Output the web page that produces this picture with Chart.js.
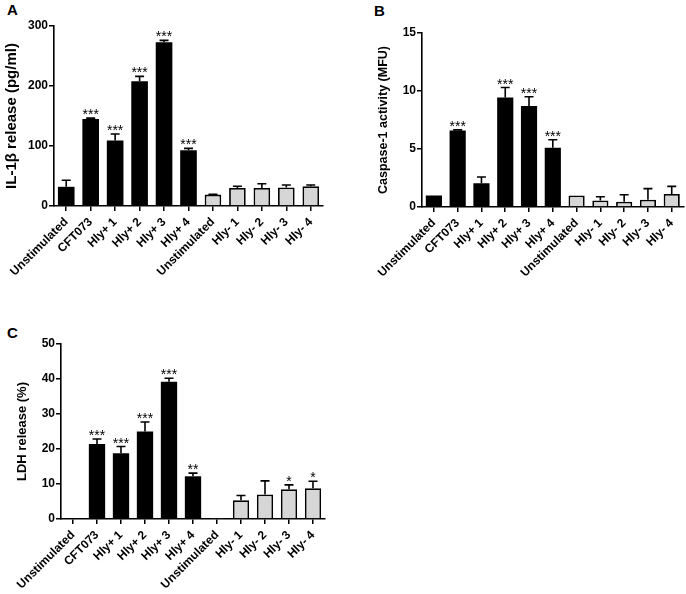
<!DOCTYPE html>
<html>
<head>
<meta charset="utf-8">
<script src="https://cdn.jsdelivr.net/npm/chart.js@4"></script>
<style>
  body { margin: 0; background: #fff; width: 686px; height: 594px; position: relative; overflow: hidden; }
  canvas { position: absolute; }
  .letter { position: absolute; font: bold 15px "Liberation Sans", Arial, sans-serif; color: #000; }
</style>
</head>
<body>
<div class="letter" style="left:7px;top:1px">A</div>
<div class="letter" style="left:374px;top:2px">B</div>
<div class="letter" style="left:7px;top:324px">C</div>
<canvas id="chartA" width="340" height="290" style="left:0;top:0"></canvas>
<canvas id="chartB" width="346" height="290" style="left:340px;top:0"></canvas>
<canvas id="chartC" width="340" height="294" style="left:0;top:300px"></canvas>
<script>
// groups: first six are Hly+ strains set (black), last five Hly- set (grey)
const groups = ['Unstimulated', 'CFT073', 'Hly+ 1', 'Hly+ 2', 'Hly+ 3', 'Hly+ 4',
                'Unstimulated', 'Hly- 1', 'Hly- 2', 'Hly- 3', 'Hly- 4'];

// A: IL-1beta release (pg/ml)
const il1bMean  = [32, 145, 109, 208, 273, 93, 19, 30, 30, 31, 33];
const il1bErr   = [11, 1.5, 11, 8, 3, 3, 0.5, 3, 7, 4, 2];
const il1bStars = ['', '***', '***', '***', '***', '***', '', '', '', '', ''];

// B: Caspase-1 activity (MFU)
const caspMean  = [1.0, 6.6, 2.04, 9.45, 8.7, 5.1, 1.0, 0.57, 0.46, 0.63, 1.12];
const caspErr   = [0, 0.05, 0.55, 0.85, 0.8, 0.7, 0, 0.32, 0.6, 0.95, 0.66];
const caspStars = ['', '***', '', '***', '***', '***', '', '', '', '', ''];

// C: LDH release (%)
const ldhMean  = [0.2, 21.4, 18.8, 25.0, 39.2, 12.2, 0.3, 5.35, 7.0, 8.5, 8.8];
const ldhErr   = [0, 1.45, 1.9, 2.7, 1.0, 0.9, 0, 1.35, 3.9, 1.25, 2.0];
const ldhStars = ['', '***', '***', '***', '***', '**', '', '', '', '*', '*'];

const FONT = '"Liberation Sans", Arial, sans-serif';

// draws one-sided (upper) error bars and the significance stars
const errorBars = {
  id: 'errorBars',
  afterDatasetsDraw(chart, args, opts) {
    const ctx = chart.ctx;
    const y = chart.scales.y;
    const meta = chart.getDatasetMeta(0);
    ctx.save();
    meta.data.forEach((bar, i) => {
      const top = y.getPixelForValue(opts.mean[i] + opts.err[i]);
      if (opts.err[i] > 0) {
        ctx.strokeStyle = '#000';
        ctx.lineWidth = 1.6;
        ctx.beginPath();
        ctx.moveTo(bar.x, bar.y);
        ctx.lineTo(bar.x, top);
        ctx.moveTo(bar.x - 4.5, top);
        ctx.lineTo(bar.x + 4.5, top);
        ctx.stroke();
      }
      if (opts.stars[i]) {
        ctx.fillStyle = '#000';
        ctx.font = '14px ' + FONT;
        ctx.textAlign = 'center';
        ctx.textBaseline = 'alphabetic';
        ctx.fillText(opts.stars[i], bar.x, top + 1);
      }
    });
    ctx.restore();
  }
};

function makePanel(id, mean, err, stars, cfg) {
  new Chart(document.getElementById(id), {
    type: 'bar',
    data: {
      labels: groups,
      datasets: [{
        data: mean,
        backgroundColor: groups.map((g, i) => i < 6 ? '#000' : '#d6d6d6'),
        borderColor: '#000',
        borderWidth: groups.map((g, i) => i < 6 ? 0 : 1.8),
        borderSkipped: 'bottom',
        categoryPercentage: 1,
        barPercentage: 0.68,
        minBarLength: 1
      }]
    },
    options: {
      responsive: false,
      animation: false,
      devicePixelRatio: 1,
      layout: { padding: cfg.pad },
      plugins: {
        legend: { display: false },
        tooltip: { enabled: false },
        errorBars: { mean: mean, err: err, stars: stars }
      },
      scales: {
        x: {
          offset: true,
          grid: { offset: false, drawOnChartArea: false, color: '#000', lineWidth: 1.5, tickLength: 5 },
          border: { color: '#000', width: 1.6 },
          ticks: { color: '#000', font: { family: FONT, size: 12, weight: 'bold' },
                   minRotation: 45, maxRotation: 45, autoSkip: false, padding: 4 },
          afterFit: s => { s.height = cfg.xHeight; }
        },
        y: {
          min: 0, max: cfg.max,
          grid: { drawOnChartArea: false, color: '#000', lineWidth: 1.5, tickLength: 5 },
          border: { color: '#000', width: 1.6 },
          ticks: { stepSize: cfg.step, color: '#000', padding: 1,
                   font: { family: FONT, size: 12, weight: 'bold' } },
          title: { display: true, text: cfg.title, color: '#000', padding: { top: 0, bottom: 0 },
                   font: { family: FONT, size: cfg.titleSize, weight: 'bold' } },
          afterFit: s => { s.width = cfg.yWidth; }
        }
      }
    },
    plugins: [errorBars]
  });
}

makePanel('chartA', il1bMean, il1bErr, il1bStars, {
  max: 300, step: 100, title: 'IL-1β release (pg/ml)', titleSize: 15,
  pad: { left: 3, top: 26, right: 17, bottom: 0 }, yWidth: 51, xHeight: 84
});
makePanel('chartB', caspMean, caspErr, caspStars, {
  max: 15, step: 5, title: 'Caspase-1 activity (MFU)', titleSize: 12.5,
  pad: { left: 36, top: 33, right: 2, bottom: 0 }, yWidth: 46, xHeight: 83
});
makePanel('chartC', ldhMean, ldhErr, ldhStars, {
  max: 50, step: 10, title: 'LDH release (%)', titleSize: 13,
  pad: { left: 15, top: 44, right: 15, bottom: 0 }, yWidth: 46, xHeight: 75
});
</script>
</body>
</html>
